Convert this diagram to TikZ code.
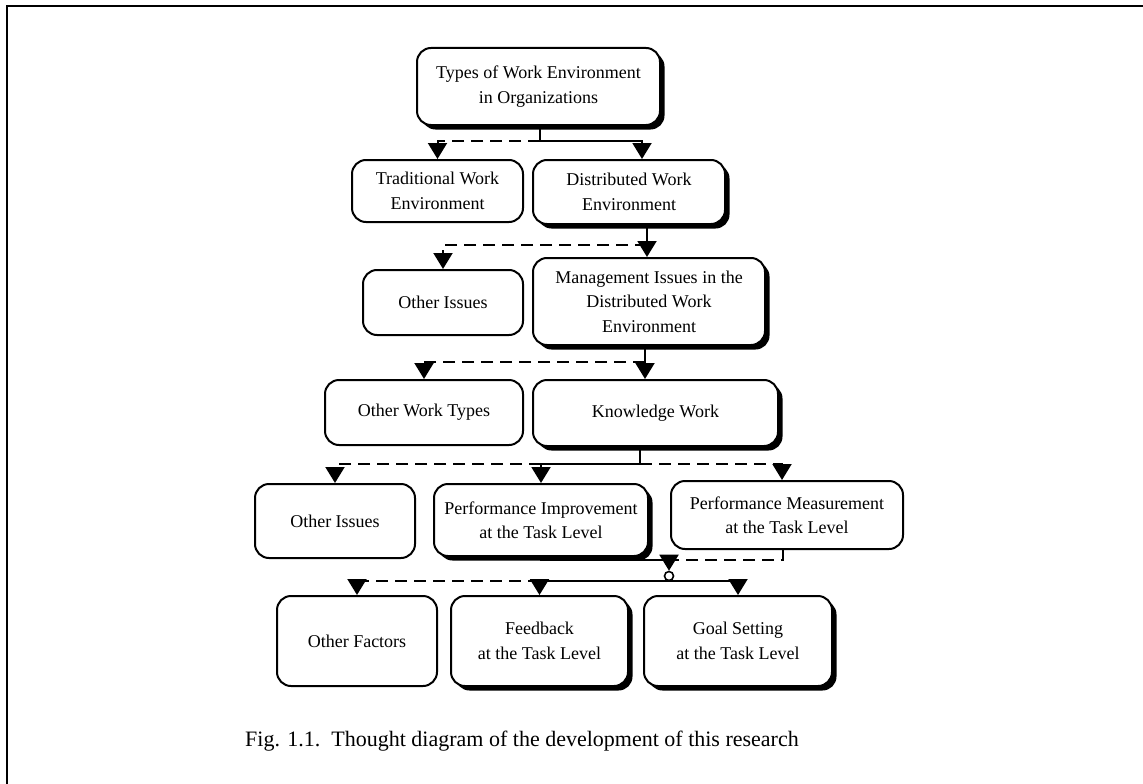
\documentclass[tikz,border=0pt]{standalone}
\usepackage{fontspec}
\setmainfont{Liberation Serif}
\usepackage{tikz}
\usetikzlibrary{arrows.meta}
\usetikzlibrary{shadows}
\tikzstyle{box}=[draw, fill=white, line width=2pt, rounded corners=14pt, align=center, inner sep=2pt, font=\fontsize{18}{24.5}\selectfont]
\tikzstyle{shbox}=[box, drop shadow={shadow xshift=4.5pt, shadow yshift=-4.5pt, fill=black, opacity=1}]
\tikzstyle{link}=[line width=2pt]
\tikzstyle{dlink}=[line width=2pt, dash pattern=on 12pt off 7pt]
\tikzstyle{junc}=[circle, draw, fill=white, line width=1.6pt, minimum size=9pt, inner sep=0pt]

\begin{document}
\begin{tikzpicture}[x=1pt, y=-1pt, >={Triangle[width=19pt,length=16pt]}]
    \useasboundingbox (0,0) rectangle (1143,784);

    %frame
    \draw [line width=2pt] (7,784) -- (7,6) -- (1143,6);

    %boxes
    \node [shbox, minimum width=243pt, minimum height=77pt] (types) at (538.5,86.5) {Types of Work Environment\\in Organizations};
    \node [box, minimum width=171pt, minimum height=62pt] (trad) at (437.5,191) {Traditional Work\\Environment};
    \node [shbox, minimum width=192pt, minimum height=64pt] (distr) at (629,192) {Distributed Work\\Environment};
    \node [box, minimum width=160pt, minimum height=65pt] (otheri) at (443,302.5) {Other Issues};
    \node [shbox, minimum width=232pt, minimum height=87pt] (mgmt) at (649,301.5) {Management Issues in the\\Distributed Work\\Environment};
    \node [box, minimum width=198pt, minimum height=65pt] (otherw) at (424,412.5) {Other Work Types};
    \node [shbox, minimum width=245pt, minimum height=66pt] (know) at (655.5,413) {Knowledge Work};
    \node [box, minimum width=160pt, minimum height=74pt] (otheriss) at (335,521) {Other Issues};
    \node [shbox, minimum width=214pt, minimum height=72pt] (perfimp) at (541,520) {Performance Improvement\\at the Task Level};
    \node [box, minimum width=232pt, minimum height=68pt] (perfmeas) at (787,515) {Performance Measurement\\at the Task Level};
    \node [box, minimum width=160pt, minimum height=90pt] (otherf) at (357,641) {Other Factors};
    \node [shbox, minimum width=177pt, minimum height=90pt] (feedb) at (539.5,641) {Feedback\\at the Task Level};
    \node [shbox, minimum width=188pt, minimum height=90pt] (goal) at (738,641) {Goal Setting\\at the Task Level};

    %connectors
    \coordinate (b1) at (540,141);
    \draw [link] (types.south -| b1) -- (b1);
    \draw [link,->] (b1) -| ([xshift=13pt]distr.north);
    \draw [dlink,->] (b1) -| (trad.north);

    \coordinate (b2) at (647,245);
    \draw [link] (b2 |- distr.south) -- (b2);
    \draw [link,->] (b2) -- (b2 |- mgmt.north);
    \draw [dlink,->] (b2) -| (otheri.north);

    \coordinate (b3) at (645,362);
    \draw [link] (b3 |- mgmt.south) -- (b3);
    \draw [link,->] (b3) -- (b3 |- know.north);
    \draw [dlink,->] (b3) -| (otherw.north);

    \coordinate (b4) at (640,464);
    \draw [link] (b4 |- know.south) -- (b4);
    \draw [link,->] (b4) -| (perfimp.north);
    \draw [dlink,->] (perfimp.north |- b4) -| (otheriss.north);
    \draw [dlink,->] (b4) -| ([xshift=-5pt]perfmeas.north);

    \node [junc] (jn) at (669,576) {};
    \coordinate (b5) at (669,560);
    \draw [link] (perfimp.south) |- (b5);
    \draw [dlink] ([xshift=-4pt]perfmeas.south) |- (b5);
    \draw [link,->] (b5) -- (jn.north);
    \draw [link,->] (jn.south) -| (goal.north);
    \draw [link,->] (jn.south) -| (feedb.north);
    \draw [dlink,->] (feedb.north |- jn.south) -| (otherf.north);

    %caption
    \node [font=\fontsize{22}{26}\selectfont] (cap) at (522,741) {Fig. 1.1.\ \ Thought diagram of the development of this research};

\end{tikzpicture}
\end{document}
